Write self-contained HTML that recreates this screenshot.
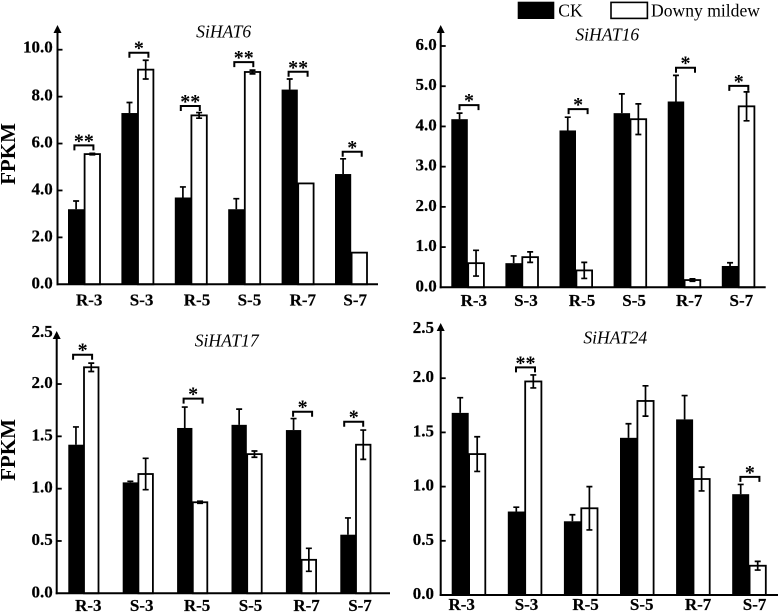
<!DOCTYPE html>
<html lang="en">
<head>
<meta charset="utf-8">
<title>SiHAT expression charts</title>
<style>
html,body{margin:0;padding:0;background:#fff;width:780px;height:612px;overflow:hidden}
svg{display:block}
text{font-family:"Liberation Serif",serif;fill:#000}
.tick{font-size:17px;font-weight:bold;stroke:#000;stroke-width:.2}
.star{font-size:20px;font-weight:bold;text-anchor:middle}
.ttl{font-size:17.6px;font-style:italic;text-anchor:middle}
.fpkm{font-size:21px;font-weight:bold;text-anchor:middle}
.leg{font-size:17.6px}
</style>
</head>
<body>
<svg id="chart" xmlns="http://www.w3.org/2000/svg" width="780" height="612" viewBox="0 0 780 612">
  <g>
    <rect x="517.7" y="1.7" width="36.6" height="17.3" fill="#000"/>
    <text class="leg" x="558.3" y="16.7">CK</text>
    <rect x="611" y="2.4" width="36.4" height="16" fill="#fff" stroke="#000" stroke-width="1.6"/>
    <text class="leg" x="651" y="16.7">Downy mildew</text>
  </g>
</svg>
<script>
const categories = ["R-3", "S-3", "R-5", "S-5", "R-7", "S-7"];

const hat6Ck = [3.2, 7.3, 3.7, 3.2, 8.3, 4.7];
const hat6CkErr = [0.35, 0.45, 0.45, 0.45, 0.45, 0.65];
const hat6Dm = [5.55, 9.15, 7.2, 9.05, 4.3, 1.35];
const hat6DmErr = [0.03, 0.4, 0.12, 0.08, 0, 0];
const hat6Ticks = [0, 2, 4, 6, 8, 10];
const hat6Sig = ["**", "*", "**", "**", "**", "*"];
const hat6SigLevel = [5.92, 9.87, 7.6, 9.47, 9.06, 5.65];

const hat16Ck = [4.18, 0.6, 3.9, 4.33, 4.62, 0.53];
const hat16CkErr = [0.15, 0.18, 0.33, 0.48, 0.65, 0.08];
const hat16Dm = [0.6, 0.75, 0.42, 4.18, 0.18, 4.5];
const hat16DmErr = [0.32, 0.13, 0.2, 0.38, 0.03, 0.36];
const hat16Ticks = [0, 1, 2, 3, 4, 5, 6];
const hat16Sig = ["*", "", "*", "", "*", "*"];
const hat16SigLevel = [4.53, 0, 4.43, 0, 5.46, 5.01];

const hat17Ck = [1.42, 1.06, 1.58, 1.61, 1.56, 0.56];
const hat17CkErr = [0.17, 0.01, 0.2, 0.15, 0.11, 0.16];
const hat17Dm = [2.16, 1.14, 0.87, 1.33, 0.32, 1.42];
const hat17DmErr = [0.04, 0.15, 0.01, 0.03, 0.11, 0.14];
const hat17Ticks = [0, 0.5, 1, 1.5, 2, 2.5];
const hat17Sig = ["*", "", "*", "", "*", "*"];
const hat17SigLevel = [2.28, 0, 1.86, 0, 1.735, 1.64];

const hat24Ck = [1.68, 0.77, 0.68, 1.45, 1.62, 0.93];
const hat24CkErr = [0.14, 0.04, 0.06, 0.13, 0.22, 0.09];
const hat24Dm = [1.3, 1.97, 0.8, 1.79, 1.07, 0.27];
const hat24DmErr = [0.16, 0.06, 0.2, 0.14, 0.11, 0.04];
const hat24Ticks = [0, 0.5, 1, 1.5, 2, 2.5];
const hat24Sig = ["", "**", "", "", "", "*"];
const hat24SigLevel = [0, 2.1, 0, 0, 0, 1.09];

const NS = "http://www.w3.org/2000/svg";
const root = document.getElementById("chart");

function make(parent, tag, attrs, content) {
  const el = document.createElementNS(NS, tag);
  for (const k in attrs) el.setAttribute(k, attrs[k]);
  if (content !== undefined) el.textContent = content;
  parent.appendChild(el);
  return el;
}

function drawPanel(p) {
  const g = make(root, "g", {});
  
  

  const maxTick = p.ticks[p.ticks.length - 1];
  const yScale = (v) => p.y0 - (v / maxTick) * (p.y0 - p.yMax);
  const xGroup = (i) => p.x0 + i * p.step;
  const barW = p.barW;

  const title = make(g, "text", { class: "ttl", x: p.titleX, y: p.titleY }, p.title);
  
  

  if (p.showY) {
    const yTitle = make(g, "text", { class: "fpkm", transform: "translate(15 " + p.yTitleY + ") rotate(-90)" }, "FPKM");
    
    
  }

  categories.forEach((c, i) => {
    const gx = xGroup(i);
    const ckY = yScale(p.ck[i]);
    const dmY = yScale(p.dm[i]);

    const ckBar = make(g, "rect", { x: gx, y: ckY, width: barW, height: p.y0 - ckY, fill: "#000" });
    
    

    const dmBar = make(g, "rect", { x: gx + barW + 0.4, y: dmY, width: barW - 0.8, height: p.y0 - dmY, fill: "#fff", stroke: "#000", "stroke-width": 1.8 });
    
    

    const cx1 = gx + barW / 2;
    const top1 = yScale(p.ck[i] + p.ckErr[i]);
    const err1 = make(g, "path", { d: "M" + cx1 + " " + ckY + "V" + top1 + "M" + (cx1 - 3) + " " + top1 + "H" + (cx1 + 3), fill: "none", stroke: "#000", "stroke-width": 1.7 });
    
    

    if (p.dmErr[i] > 0) {
      const cx2 = gx + barW * 1.5;
      const top2 = yScale(p.dm[i] + p.dmErr[i]);
      const bot2 = yScale(p.dm[i] - p.dmErr[i]);
      const err2 = make(g, "path", { d: "M" + cx2 + " " + top2 + "V" + bot2 + "M" + (cx2 - 3) + " " + top2 + "H" + (cx2 + 3) + "M" + (cx2 - 3) + " " + bot2 + "H" + (cx2 + 3), fill: "none", stroke: "#000", "stroke-width": 1.7 });
      
      
    }

    if (p.sig[i]) {
      const bx = gx + barW + p.sigDx[i];
      const by = yScale(p.sigLevel[i]);
      const bracket = make(g, "path", { d: "M" + (bx - 9.5) + " " + (by + 5) + "V" + by + "H" + (bx + 9.5) + "V" + (by + 5), fill: "none", stroke: "#000", "stroke-width": 2 });
      
      
      const star = make(g, "text", { class: "star", x: bx, y: by + 2 }, p.sig[i]);
      
      
    }

    const lab = make(g, "text", { class: "tick", x: gx + barW + p.labelDx[i], y: p.labelY, "text-anchor": "middle" }, c);
    
    
  });

  const yAxis = make(g, "line", { x1: p.axisX, x2: p.axisX, y1: p.y0 + 1, y2: p.arrowTip + 6, stroke: "#000", "stroke-width": 2 });
  
  

  const arrow = make(g, "path", { d: "M" + p.axisX + " " + p.arrowTip + "l4 8h-8z", fill: "#000" });
  
  

  const xAxis = make(g, "line", { x1: p.axisX - 1, x2: p.xEnd, y1: p.y0, y2: p.y0, stroke: "#000", "stroke-width": 2 });
  
  

  p.ticks.forEach((t, i) => {
    const ty = yScale(t);
    const isLast = i === p.ticks.length - 1;
    if (i > 0 && (!isLast || p.topTick)) {
      const mark = make(g, "line", { x1: p.axisX, x2: p.axisX + 5, y1: ty, y2: ty, stroke: "#000", "stroke-width": 1.8 });
      
      
    }
    const lab = make(g, "text", { class: "tick", x: p.yLabelX, y: ty + 4 + (isLast ? p.topLabelDy : 0), "text-anchor": "end" }, t.toFixed(1));
    
    
  });
}

drawPanel({
  title: "SiHAT6", titleX: 223.7, titleY: 37.7, showY: true, yTitleY: 154,
  ck: hat6Ck, ckErr: hat6CkErr, dm: hat6Dm, dmErr: hat6DmErr, ticks: hat6Ticks, sig: hat6Sig, sigLevel: hat6SigLevel,
  axisX: 57.5, y0: 284.3, yMax: 49.7, arrowTip: 25, xEnd: 378, x0: 68, step: 53.4, barW: 16.2, topTick: true, topLabelDy: -1,
  yLabelX: 52.7, labelY: 305.7, labelDx: [5, 4, 6, 5, 5, 4], sigDx: [-0.3, 1.3, -0.7, -0.6, 0.3, 1]
});
drawPanel({
  title: "SiHAT16", titleX: 607.3, titleY: 40.7, showY: false,
  ck: hat16Ck, ckErr: hat16CkErr, dm: hat16Dm, dmErr: hat16DmErr, ticks: hat16Ticks, sig: hat16Sig, sigLevel: hat16SigLevel,
  axisX: 440.7, y0: 287.3, yMax: 46, arrowTip: 25, xEnd: 765.7, x0: 451.3, step: 54.1, barW: 16.5, topTick: true, topLabelDy: 0,
  yLabelX: 436.7, labelY: 306, labelDx: [6, 4, 6, 4, 5, 3], sigDx: [1.2, 0, 2.1, 0, 1.3, 0.5]
});
drawPanel({
  title: "SiHAT17", titleX: 226.7, titleY: 346.7, showY: true, yTitleY: 450,
  ck: hat17Ck, ckErr: hat17CkErr, dm: hat17Dm, dmErr: hat17DmErr, ticks: hat17Ticks, sig: hat17Sig, sigLevel: hat17SigLevel,
  axisX: 56.7, y0: 593.3, yMax: 331.7, arrowTip: 331, xEnd: 390, x0: 68.3, step: 54.4, barW: 15.3, topTick: false, topLabelDy: 1.5,
  yLabelX: 52.7, labelY: 611, labelDx: [4.7, 3.7, 4.7, 3.7, 5.4, 4.4], sigDx: [-1, 0, 0.7, 0, 1.4, -1.9]
});
drawPanel({
  title: "SiHAT24", titleX: 615.3, titleY: 343.3, showY: false,
  ck: hat24Ck, ckErr: hat24CkErr, dm: hat24Dm, dmErr: hat24DmErr, ticks: hat24Ticks, sig: hat24Sig, sigLevel: hat24SigLevel,
  axisX: 440.7, y0: 595, yMax: 324, arrowTip: 323, xEnd: 778, x0: 451.7, step: 56.1, barW: 17, topTick: false, topLabelDy: 5,
  yLabelX: 434, labelY: 610, labelDx: [-7, 1.7, 4.7, 4.7, 5, 5.4], sigDx: [0, 0.7, 0, 0, 0, 0.7]
});
</script>
</body>
</html>
